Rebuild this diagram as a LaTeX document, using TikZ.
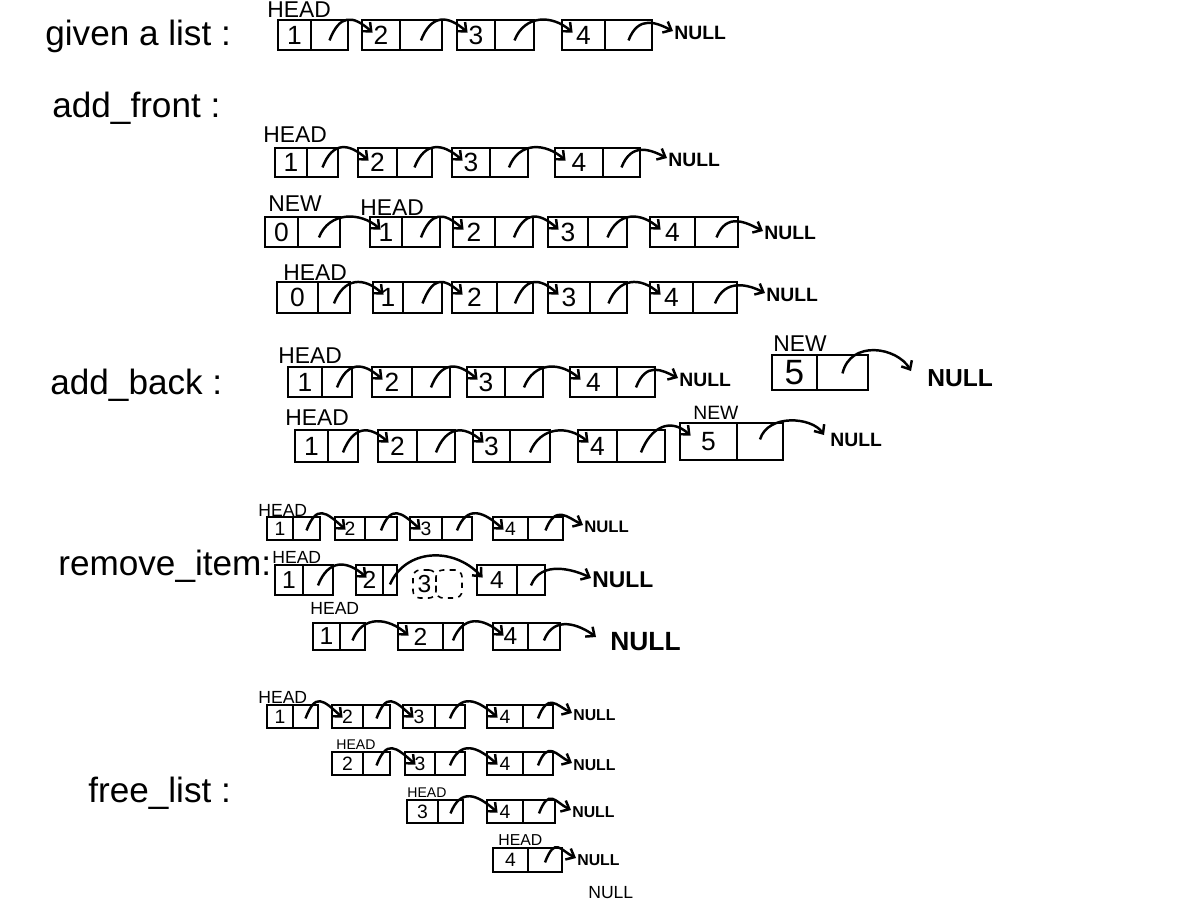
\documentclass[tikz,border=0pt]{standalone}
\usepackage{fontspec}
\setmainfont{Liberation Sans}
\usetikzlibrary{calc,arrows.meta}
\newcommand\fsz[1]{\fontsize{#1}{#1}\selectfont}
% list cell: [style]{name}{x left}{x separator}{x right}{y top}{y bottom}{value}
\newcommand\lcell[8][]{%
  \node[cellbox,#1,minimum width={(#4-#3)*0.02cm},minimum height={(#7-#6)*0.02cm}]
    (#2d) at ({(#3+#4)/2},{(#6+#7)/2}) {#8};
  \node[cellbox,#1,minimum width={(#5-#4)*0.02cm},minimum height={(#7-#6)*0.02cm}]
    (#2p) at ({(#4+#5)/2},{(#6+#7)/2}) {};}
\newcommand\lnk[2]{\draw[link] ($(#1p.south)+(0,-11)$) .. controls +(10,-26) and +(-20,-18) .. ($(#2d.north west)+(12,14)$);}
\newcommand\nlnk[2]{\draw[link] ($(#1p.south)+(0,-11)$) .. controls +(10,-26) and +(-16,-8) .. ($(#2.west)+(-1,-2)$);}
\tikzset{
  cellbox/.style={draw, line width=1.6pt, inner sep=0pt, font=\fsz{15}},
  link/.style={line width=1.4pt, -{Straight Barb[length=4pt,width=7pt]}},
  lbl/.style={anchor=west, inner sep=0pt, font=\fsz{20}},
  head/.style={anchor=west, inner sep=0pt, font=\fsz{13}},
  nul/.style={anchor=west, inner sep=0pt, font=\bfseries\fsz{11}},
}
\begin{document}
\begin{tikzpicture}[x=0.02cm,y=-0.02cm]
\fill[white] (0,0) rectangle (1200,920);
\useasboundingbox (0,0) rectangle (1200,920);

% ---------- section labels ----------
\node[lbl] (lgiven) at (45,36) {given a list :};
\node[lbl] (lfront) at (52,108) {add\_front :};
\node[lbl] (lback) at (50,385) {add\_back :};
\node[lbl] (lremove) at (58,566) {remove\_item:};
\node[lbl] (lfree) at (88,793) {free\_list :};

% ---------- given a list ----------
\node[head] (ahead) at (267,10) {HEAD};
\lcell{a1}{278}{311}{348}{20}{50}{1}
\lcell{a2}{362}{400}{442}{20}{50}{2}
\lcell{a3}{457}{495}{534}{20}{50}{3}
\lcell{a4}{562}{605}{652}{20}{50}{4}
\node[nul] (anull) at (674,33) {NULL};
\lnk{a1}{a2}\lnk{a2}{a3}\lnk{a3}{a4}\nlnk{a4}{anull}

% ---------- add_front row 1 ----------
\node[head] (bhead) at (263,135) {HEAD};
\lcell{b1}{275}{307}{338}{148}{177}{1}
\lcell{b2}{358}{397}{432}{148}{177}{2}
\lcell{b3}{452}{490}{528}{148}{177}{3}
\lcell{b4}{555}{603}{640}{148}{177}{4}
\node[nul] (bnull) at (668,160) {NULL};
\lnk{b1}{b2}\lnk{b2}{b3}\lnk{b3}{b4}\nlnk{b4}{bnull}

% ---------- add_front row 2 ----------
\node[head] (cnew) at (268,204) {NEW};
\node[head] (chead) at (360,208) {HEAD};
\lcell{c0}{265}{298}{340}{217}{247}{0}
\lcell{c1}{370}{402}{440}{217}{247}{1}
\lcell{c2}{453}{495}{533}{217}{247}{2}
\lcell{c3}{548}{588}{627}{217}{247}{3}
\lcell{c4}{650}{695}{738}{217}{247}{4}
\node[nul] (cnull) at (764,233) {NULL};
\lnk{c0}{c1}\lnk{c1}{c2}\lnk{c2}{c3}\lnk{c3}{c4}\nlnk{c4}{cnull}

% ---------- add_front row 3 ----------
\node[head] (dhead) at (283,273) {HEAD};
\lcell{d0}{277}{318}{350}{282}{313}{0}
\lcell{d1}{373}{403}{442}{282}{313}{1}
\lcell{d2}{452}{497}{533}{282}{313}{2}
\lcell{d3}{548}{590}{627}{282}{313}{3}
\lcell{d4}{650}{693}{737}{282}{313}{4}
\node[nul] (dnull) at (766,295) {NULL};
\lnk{d0}{d1}\lnk{d1}{d2}\lnk{d2}{d3}\lnk{d3}{d4}\nlnk{d4}{dnull}

% ---------- add_back row 1 ----------
\node[head] (ehead) at (278,356) {HEAD};
\lcell{e1}{288}{322}{352}{367}{397}{1}
\lcell{e2}{372}{412}{450}{367}{397}{2}
\lcell{e3}{467}{505}{543}{367}{397}{3}
\lcell{e4}{570}{617}{655}{367}{397}{4}
\node[nul] (enull) at (679,380) {NULL};
\lnk{e1}{e2}\lnk{e2}{e3}\lnk{e3}{e4}\nlnk{e4}{enull}
\node[head] (enew) at (773,344) {NEW};
\lcell[font=\fsz{20}]{e5}{772}{817}{868}{355}{390}{5}
\node[nul,font=\bfseries\fsz{14}] (enull2) at (927,378) {NULL};
\draw[link] ($(e5p.south)+(0,-18)$) .. controls +(8,-34) and +(-14,-24) .. ($(enull2.west)+(-16,-7)$);

% ---------- add_back row 2 ----------
\node[head] (fhead) at (285,418) {HEAD};
\lcell{f1}{295}{328}{358}{430}{462}{1}
\lcell{f2}{378}{417}{455}{430}{462}{2}
\lcell{f3}{473}{510}{550}{430}{462}{3}
\lcell{f4}{578}{617}{665}{430}{462}{4}
\node[head,font=\fsz{11}] (fnew) at (693,413) {NEW};
\lcell{f5}{680}{737}{783}{423}{460}{5}
\node[nul] (fnull) at (830,440) {NULL};
\lnk{f1}{f2}\lnk{f2}{f3}\lnk{f3}{f4}\lnk{f4}{f5}
\draw[link] ($(f5p.south)+(0,-22)$) .. controls +(8,-26) and +(-12,-18) .. ($(fnull.west)+(-6,-5)$);

% ---------- remove_item row 1 ----------
\node[head,font=\fsz{10}] (ghead) at (258,510) {HEAD};
\lcell[font=\fsz{11}]{g1}{267}{293}{320}{517}{540}{1}
\lcell[font=\fsz{11}]{g2}{335}{365}{397}{517}{540}{2}
\lcell[font=\fsz{11}]{g3}{410}{442}{472}{517}{540}{3}
\lcell[font=\fsz{11}]{g4}{493}{528}{563}{517}{540}{4}
\node[nul,font=\bfseries\fsz{9.5}] (gnull) at (584,527) {NULL};
\lnk{g1}{g2}\lnk{g2}{g3}\lnk{g3}{g4}\nlnk{g4}{gnull}

% ---------- remove_item row 2 ----------
\node[head,font=\fsz{10}] (hhead) at (272,557) {HEAD};
\lcell[font=\fsz{14}]{h1}{275}{303}{333}{565}{595}{1}
\lcell[font=\fsz{14}]{h2}{356}{383}{397}{565}{595}{2}
\lcell[font=\fsz{14},dashed,rounded corners=4pt,line width=0.9pt]{h3}{413}{436}{462}{570}{598}{3}
\lcell[font=\fsz{14}]{h4}{477}{517}{545}{565}{595}{4}
\node[nul,font=\bfseries\fsz{13}] (hnull) at (592,580) {NULL};
\lnk{h1}{h2}
\draw[link] ($(h2p.south)+(0,-12)$) .. controls +(15,-35) and +(-30,-32) .. ($(h4d.north west)+(7,14)$);
\nlnk{h4}{hnull}

% ---------- remove_item row 3 ----------
\node[head,font=\fsz{10}] (ihead) at (310,608) {HEAD};
\lcell[font=\fsz{14}]{i1}{313}{340}{365}{623}{650}{1}
\lcell[font=\fsz{14}]{i2}{398}{443}{463}{623}{650}{2}
\lcell[font=\fsz{14}]{i4}{493}{528}{560}{623}{650}{4}
\node[nul,font=\bfseries\fsz{15}] (inull) at (610,642) {NULL};
\lnk{i1}{i2}\lnk{i2}{i4}
\draw[link] ($(i4p.south)+(0,-11)$) .. controls +(10,-26) and +(-16,-12) .. ($(inull.west)+(-14,-5)$);

% ---------- free_list row 1 ----------
\node[head,font=\fsz{10}] (jhead) at (258,697) {HEAD};
\lcell[font=\fsz{11}]{j1}{267}{293}{318}{705}{728}{1}
\lcell[font=\fsz{11}]{j2}{332}{363}{390}{705}{728}{2}
\lcell[font=\fsz{11}]{j3}{403}{435}{465}{705}{728}{3}
\lcell[font=\fsz{11}]{j4}{487}{523}{553}{705}{728}{4}
\node[nul,font=\bfseries\fsz{9}] (jnull) at (573,715) {NULL};
\lnk{j1}{j2}\lnk{j2}{j3}\lnk{j3}{j4}\nlnk{j4}{jnull}

% ---------- free_list row 2 ----------
\node[head,font=\fsz{8}] (khead) at (336,745) {HEAD};
\lcell[font=\fsz{11}]{k2}{332}{363}{390}{752}{775}{2}
\lcell[font=\fsz{11}]{k3}{405}{435}{465}{752}{775}{3}
\lcell[font=\fsz{11}]{k4}{487}{523}{553}{752}{775}{4}
\node[nul,font=\bfseries\fsz{9}] (knull) at (573,765) {NULL};
\lnk{k2}{k3}\lnk{k3}{k4}\nlnk{k4}{knull}

% ---------- free_list row 3 ----------
\node[head,font=\fsz{8}] (lhead) at (407,793) {HEAD};
\lcell[font=\fsz{11}]{l3}{407}{438}{463}{800}{823}{3}
\lcell[font=\fsz{11}]{l4}{487}{523}{555}{800}{823}{4}
\node[nul,font=\bfseries\fsz{9}] (lnull) at (572,812) {NULL};
\lnk{l3}{l4}\nlnk{l4}{lnull}

% ---------- free_list row 4 ----------
\node[head,font=\fsz{9}] (mhead) at (498,840) {HEAD};
\lcell[font=\fsz{11}]{m4}{493}{528}{562}{848}{872}{4}
\node[nul,font=\bfseries\fsz{9}] (mnull) at (577,860) {NULL};
\nlnk{m4}{mnull}
\node[nul,font=\fsz{10}] (fnull2) at (588,893) {NULL};
\end{tikzpicture}
\end{document}
